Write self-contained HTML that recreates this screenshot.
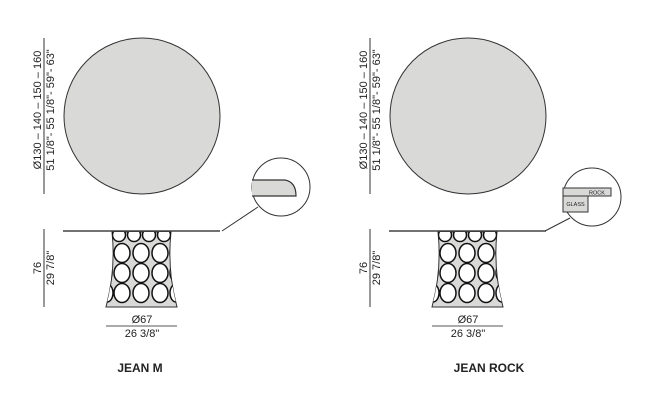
<!DOCTYPE html>
<html><head><style>
html,body{margin:0;padding:0;background:#fff;width:647px;height:417px;overflow:hidden}
svg{display:block}
text{font-family:"Liberation Sans",Arial,sans-serif;fill:#222}
</style></head><body>
<svg width="647" height="417" viewBox="0 0 647 417" xmlns="http://www.w3.org/2000/svg">
<defs>
<clipPath id="cb"><path d="M112,232 L171,232 Q167,270 177,307 L106,307 Q116,270 112,232 Z"/></clipPath>
<g id="base">
  <path d="M112,232 L171,232 Q167,270 177,307 L106,307 Q116,270 112,232 Z" fill="#d9dad8" stroke="#333" stroke-width="1"/>
  <g clip-path="url(#cb)" fill="#fff" stroke="#111" stroke-width="1.5">
    <ellipse cx="119" cy="235" rx="6.5" ry="6.5"/><ellipse cx="134" cy="235" rx="6.5" ry="6.5"/><ellipse cx="149" cy="235" rx="6.5" ry="6.5"/><ellipse cx="164" cy="235" rx="6.5" ry="6.5"/>
    <ellipse cx="105" cy="253" rx="7" ry="9"/><ellipse cx="122" cy="253" rx="8" ry="9.5"/><ellipse cx="141" cy="253" rx="8" ry="9.5"/><ellipse cx="160" cy="253" rx="8" ry="9.5"/><ellipse cx="177" cy="253" rx="7" ry="9"/>
    <ellipse cx="105" cy="273" rx="7" ry="9"/><ellipse cx="122" cy="273" rx="8" ry="9.5"/><ellipse cx="141" cy="273" rx="8" ry="9.5"/><ellipse cx="160" cy="273" rx="8" ry="9.5"/><ellipse cx="177" cy="273" rx="7" ry="9"/>
    <ellipse cx="107" cy="293" rx="6" ry="9"/><ellipse cx="122" cy="293" rx="8" ry="9.5"/><ellipse cx="141" cy="293" rx="8" ry="9.5"/><ellipse cx="160" cy="293" rx="8" ry="9.5"/><ellipse cx="176" cy="293" rx="6" ry="9"/>
  </g>
</g>
<g id="common">
  <circle cx="142" cy="116" r="78" fill="#d9dad8" stroke="#333" stroke-width="1"/>
  <line x1="44" y1="38" x2="44" y2="194" stroke="#333" stroke-width="1"/>
  <text transform="translate(41,110) rotate(-90)" text-anchor="middle" font-size="11">Ø130 – 140 – 150 – 160</text>
  <text transform="translate(54,110) rotate(-90)" text-anchor="middle" font-size="11">51 1/8"- 55 1/8"- 59"- 63"</text>
  <line x1="44" y1="229" x2="44" y2="307" stroke="#333" stroke-width="1"/>
  <text transform="translate(41,268) rotate(-90)" text-anchor="middle" font-size="11">76</text>
  <text transform="translate(54,268) rotate(-90)" text-anchor="middle" font-size="11">29 7/8"</text>
  <line x1="63" y1="231" x2="220" y2="231" stroke="#444" stroke-width="1.6"/>
  <use href="#base"/>
  <line x1="106" y1="326" x2="177" y2="326" stroke="#555" stroke-width="1"/>
  <text x="142" y="323" text-anchor="middle" font-size="11">Ø67</text>
  <text x="142" y="337" text-anchor="middle" font-size="11">26 3/8"</text>
</g>
</defs>

<use href="#common"/>
<circle cx="281" cy="187" r="29" fill="#fff" stroke="#333" stroke-width="1"/>
<path d="M252,180 L285,180 Q296,182 296,196 L252,196" fill="#d9dad8" stroke="#333" stroke-width="1.2"/>
<line x1="222" y1="231" x2="258" y2="207" stroke="#333" stroke-width="1"/>
<text x="140" y="372" text-anchor="middle" font-size="12" font-weight="bold">JEAN M</text>

<g transform="translate(326,0)"><use href="#common"/></g>
<circle cx="592" cy="197" r="29" fill="#fff" stroke="#333" stroke-width="1"/>
<rect x="563" y="188" width="48" height="8" fill="#d9dad8" stroke="#333" stroke-width="1"/>
<rect x="563" y="196" width="25" height="16" fill="#d9dad8" stroke="#333" stroke-width="1"/>
<text x="597" y="194.5" text-anchor="middle" font-size="5.5">ROCK</text>
<text x="575.5" y="206" text-anchor="middle" font-size="5.5">GLASS</text>
<line x1="545" y1="231" x2="570" y2="218" stroke="#333" stroke-width="1"/>
<text x="489" y="372" text-anchor="middle" font-size="12" font-weight="bold">JEAN ROCK</text>
</svg>
</body></html>
